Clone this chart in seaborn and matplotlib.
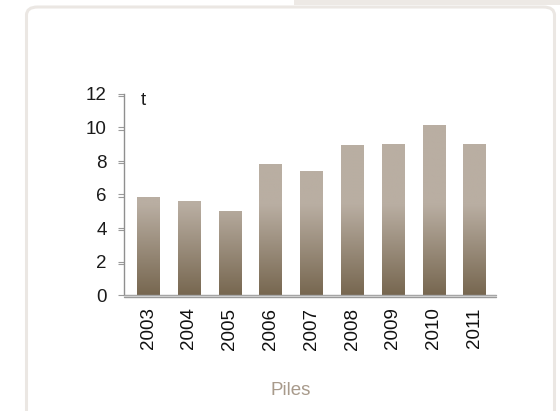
import numpy as np
import pandas as pd
import matplotlib
matplotlib.use("Agg")
import matplotlib.pyplot as plt
import matplotlib.transforms as mtransforms
from matplotlib.patches import FancyBboxPatch, Rectangle
from matplotlib.lines import Line2D
import matplotlib.colors as mcolors
import seaborn as sns

# Annual pile tonnage
years = ["2003", "2004", "2005", "2006", "2007", "2008", "2009", "2010", "2011"]
tonnes = [5.8, 5.6, 5.0, 7.8, 7.4, 8.9, 9.0, 10.1, 9.0]
y_ticks = [0, 2, 4, 6, 8, 10, 12]
unit_label = "t"
x_title = "Piles"

sns.set_theme(style="white")
plt.rcParams["font.family"] = ["Liberation Sans", "DejaVu Sans"]

df = pd.DataFrame({"year": years, "tonnes": tonnes})

fig = plt.figure(figsize=(5.6, 4.11), dpi=100)
fig.patch.set_facecolor("white")

# card frame with rounded corner and a tab strip at the top right
frame = FancyBboxPatch((26.5 / 560, -0.05), (554.5 - 26.5) / 560, 404 / 411 + 0.05,
                       boxstyle="round,pad=0,rounding_size=0.02",
                       transform=fig.transFigure, facecolor="none",
                       edgecolor="#ebe7e3", linewidth=2.2, zorder=0)
fig.patches.append(frame)
fig.patches.append(Rectangle((294 / 560, 1 - 5 / 411), 1, 5 / 411,
                             transform=fig.transFigure, facecolor="#ede9e5",
                             edgecolor="none", zorder=0))

ax = fig.add_axes([124 / 560, 1 - 295 / 411, (496 - 124) / 560, (295 - 94) / 411])
ax.set_facecolor("none")

sns.barplot(data=df, x="year", y="tonnes", color="#a89a8a", width=0.54,
            saturation=1, ax=ax)

light = np.array(mcolors.to_rgb("#b9aea2"))
dark = np.array(mcolors.to_rgb("#776750"))

# replace each bar fill with a vertical gradient tied to the value axis
for p in ax.patches:
    x0, w, h = p.get_x(), p.get_width(), p.get_height()
    ys = np.linspace(0, h, 200)
    t = np.clip(ys / 5.4, 0, 1)[:, None]
    cols = dark + (light - dark) * t
    img = cols[:, None, :]
    ax.imshow(img, extent=[x0, x0 + w, 0, h], origin="lower", aspect="auto",
              interpolation="bilinear", zorder=2)
    p.set_visible(False)

ax.set_xlim(-0.59, 8.53)
ax.set_ylim(0, 12)
ax.set_yticks(y_ticks)
ax.set_yticks([v - 0.12 for v in y_ticks[1:]], minor=True)
ax.set_xlabel("")
ax.set_ylabel("")

for s in ["top", "right", "bottom"]:
    ax.spines[s].set_visible(False)
ax.spines["left"].set_color("#8f8f8f")
ax.spines["left"].set_linewidth(1.0)

ax.tick_params(axis="y", which="both", left=True, length=4.5, width=0.8,
               color="#9a9a9a", labelsize=13.5, labelcolor="#1a1a1a", pad=8)
ax.tick_params(axis="y", which="minor", labelleft=False)
ax.tick_params(axis="x", bottom=False, length=0, labelsize=13.5,
               labelcolor="#111111", pad=9, labelrotation=90)


def shifted(dy_px):
    return ax.transAxes + mtransforms.ScaledTranslation(0, dy_px / 100, fig.dpi_scale_trans)


# double baseline at zero
for dy, c in [(0.0, "#9a9a9a"), (-1.1, "#dcdcdc"), (-2.2, "#9a9a9a")]:
    ax.add_line(Line2D([0, 1], [0, 0], transform=shifted(dy), color=c,
                       linewidth=1.0, clip_on=False, zorder=3))

ax.text(0.045, 1.012, unit_label, transform=ax.transAxes, ha="left", va="top",
        fontsize=13.5, color="#1a1a1a")

fig.text(291 / 560, 1 - 390 / 411, x_title, ha="center", va="center",
         fontsize=13.5, color="#a89a8b")

fig.savefig("out.png", dpi=100)
